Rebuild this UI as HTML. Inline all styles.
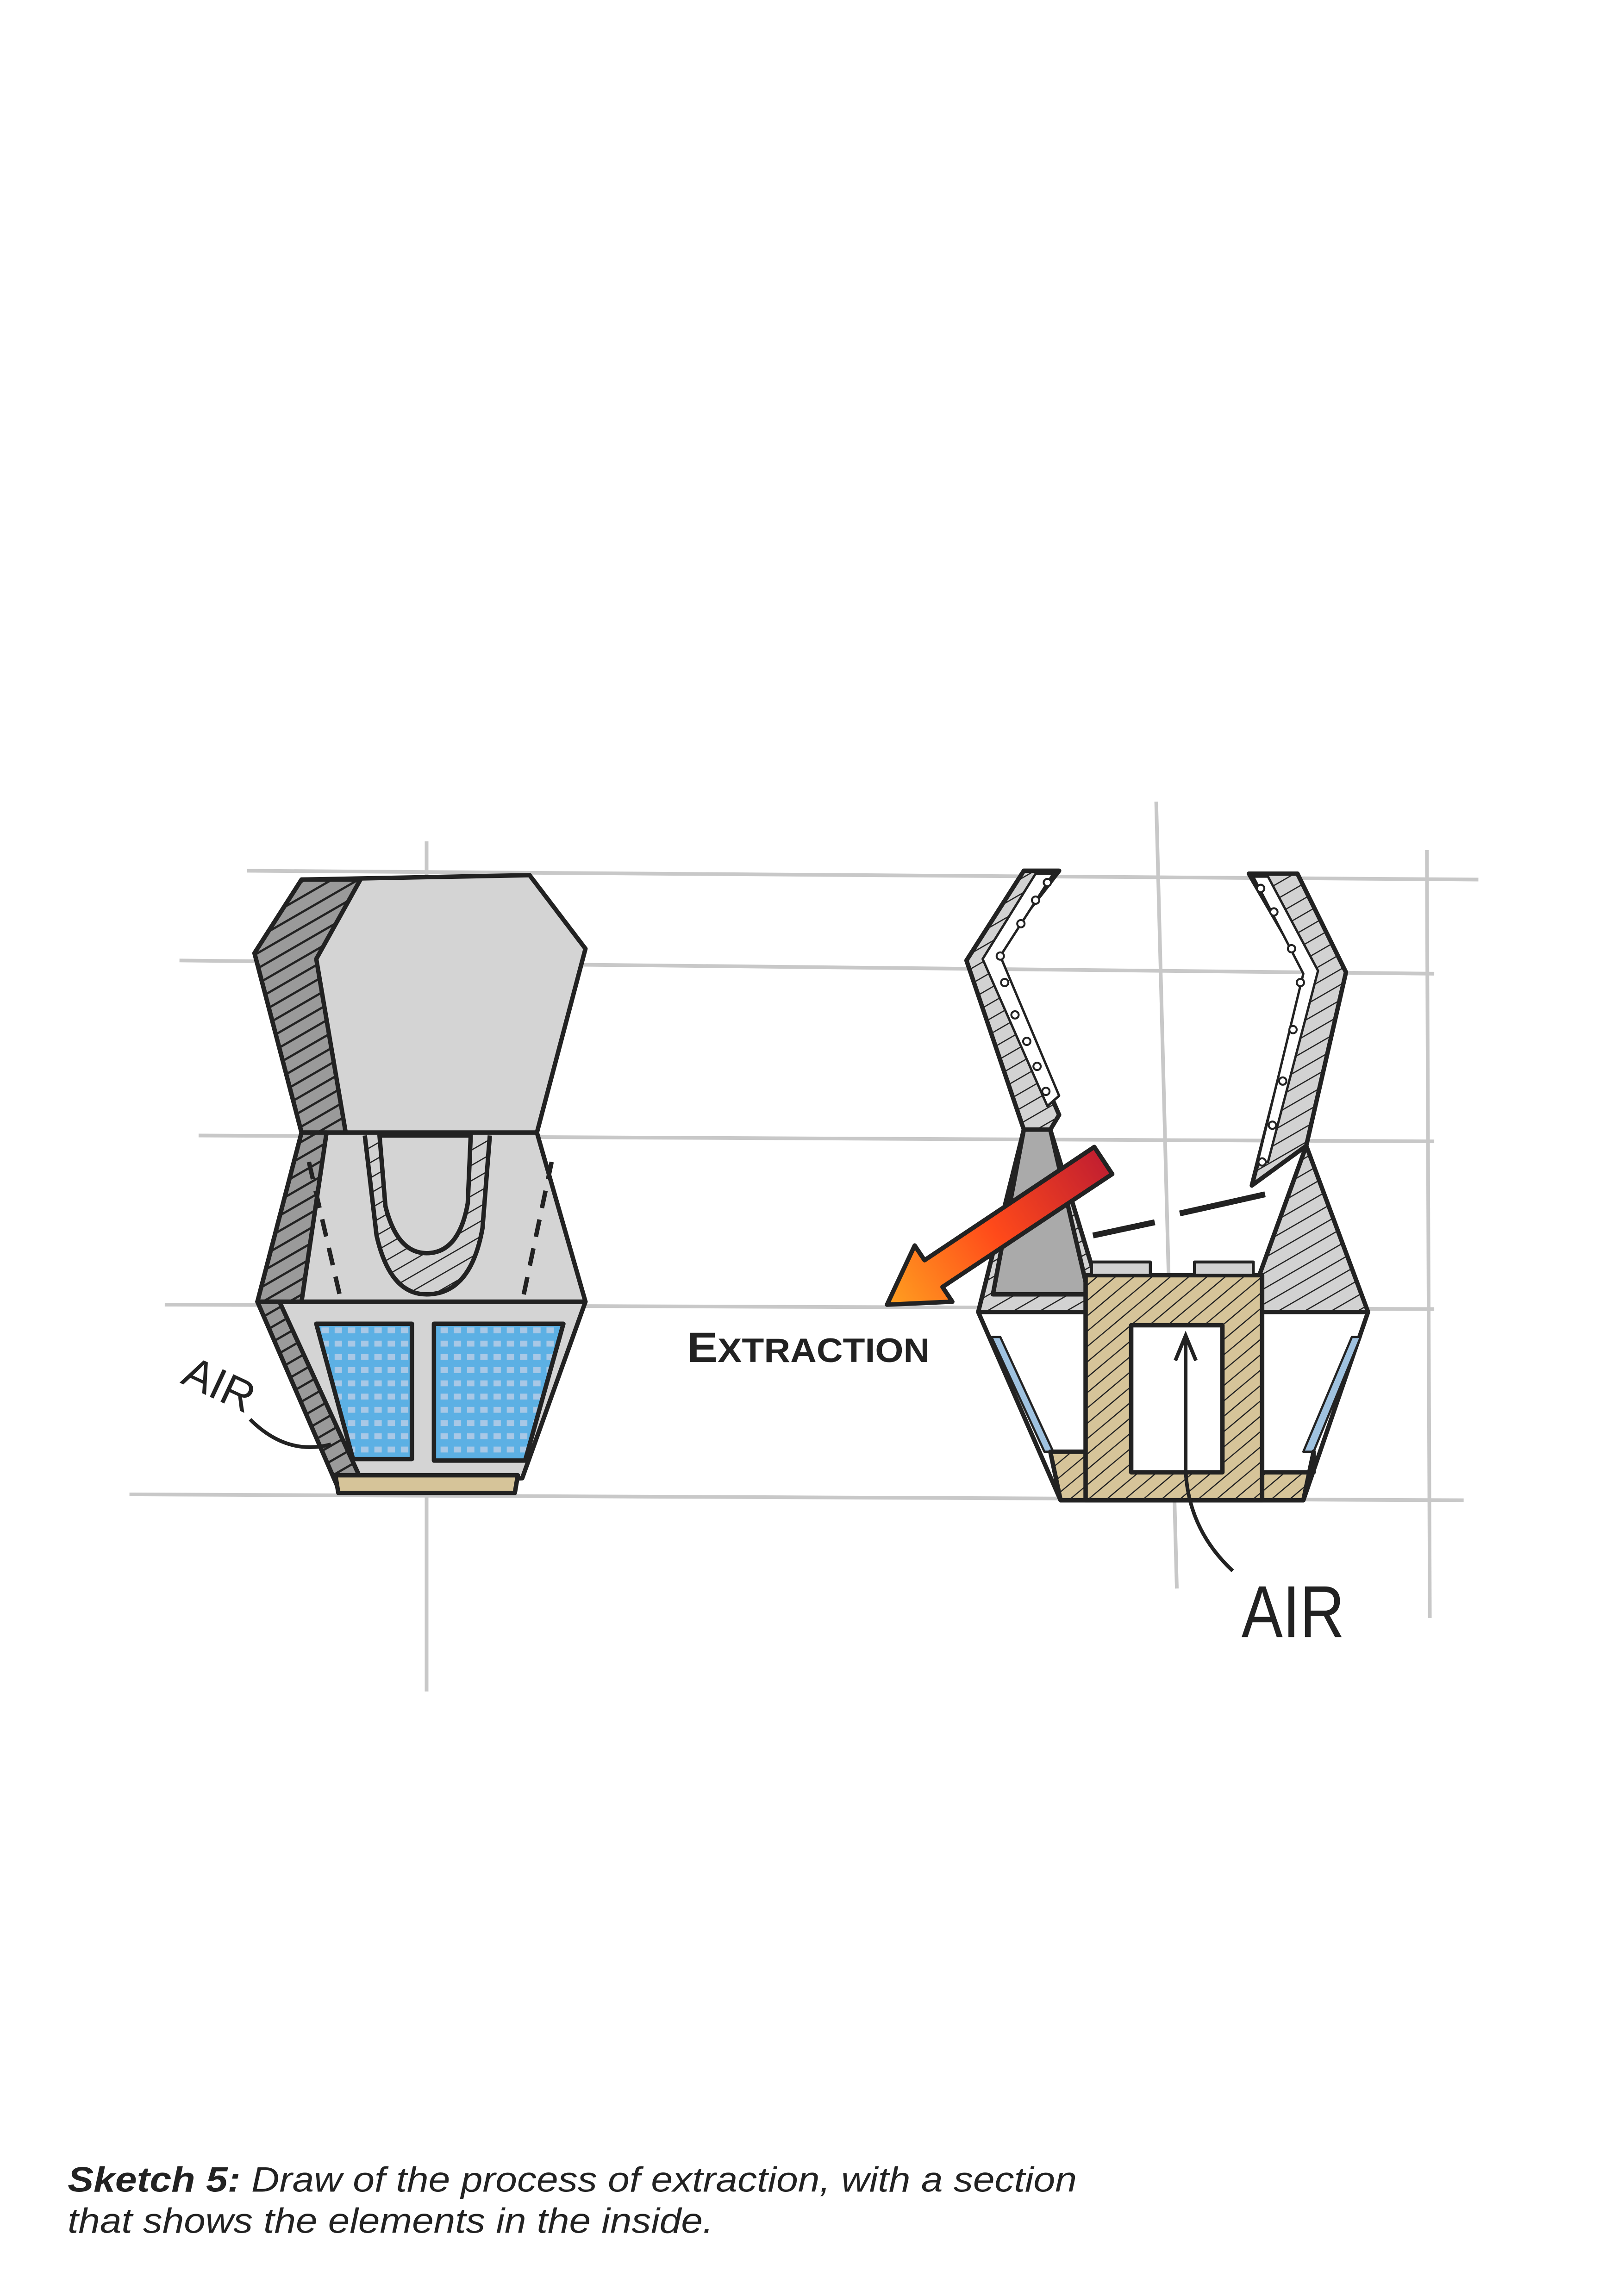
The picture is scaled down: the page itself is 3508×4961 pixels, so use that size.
<!DOCTYPE html>
<html><head><meta charset="utf-8"><style>
html,body{margin:0;padding:0;background:#fff;}
svg{display:block;}
</style></head><body>
<svg width="3508" height="4961" viewBox="0 0 1104 1561" preserveAspectRatio="none" xmlns="http://www.w3.org/2000/svg">
<defs>
<pattern id="h" width="9" height="9" patternUnits="userSpaceOnUse" patternTransform="rotate(-30)">
<rect width="9" height="9" fill="#9a9a9a"/><line x1="0" y1="0" x2="9" y2="0" stroke="#222" stroke-width="3"/></pattern>
<pattern id="hl" width="9" height="9" patternUnits="userSpaceOnUse" patternTransform="rotate(-30)">
<rect width="9" height="9" fill="#d2d2d2"/><line x1="0" y1="0" x2="9" y2="0" stroke="#222" stroke-width="1.6"/></pattern>
<pattern id="ht" width="8" height="8" patternUnits="userSpaceOnUse" patternTransform="rotate(-40)">
<rect width="8" height="8" fill="#d6c499"/><line x1="0" y1="0" x2="8" y2="0" stroke="#222" stroke-width="1.6"/></pattern>
<pattern id="bl" width="9" height="9" patternUnits="userSpaceOnUse">
<rect width="9" height="9" fill="#5cb0e4"/><rect x="2.5" y="2.5" width="5" height="4" fill="#a8c8e6"/></pattern>
<linearGradient id="ag" x1="750" y1="789" x2="603" y2="887" gradientUnits="userSpaceOnUse">
<stop offset="0" stop-color="#c21f30"/><stop offset="0.5" stop-color="#ff4a1a"/><stop offset="1" stop-color="#ffa020"/></linearGradient>
</defs>
<g stroke="#c8c8c8" stroke-width="2.5" fill="none">
<path d="M168 592 L1005 598"/><path d="M122 653 L975 662"/><path d="M135 772 L975 776"/>
<path d="M112 887 L975 890"/><path d="M88 1016 L995 1020"/>
<path d="M290 572 L290 1150"/><path d="M786 545 L800 1080"/><path d="M970 578 L972 1100"/>
</g>
<g stroke="#222" stroke-width="3" stroke-linejoin="round">
<polygon points="205,598 360,595 398,645 365,770 205,770 173,648" fill="#d4d4d4"/>
<polygon points="205,598 245,598 215,652 235,770 205,770 173,648" fill="url(#h)"/>
<polygon points="205,770 365,770 398,885 175,885" fill="#d4d4d4"/>
<polygon points="205,770 222,770 205,885 175,885" fill="url(#h)"/>
<path d="M248,772 L256,840 Q265,880 290,880 Q320,880 328,835 L333,772" fill="url(#hl)"/>
<path d="M258,772 L262,820 Q270,852 290,852 Q312,852 318,818 L320,772 Z" fill="#d4d4d4"/>
<polygon points="175,885 398,885 355,1005 230,1012" fill="#d4d4d4"/>
<polygon points="175,885 190,885 245,1005 230,1012" fill="url(#h)"/>
<polygon points="228,1003 352,1003 350,1015 230,1015" fill="#d6c499"/>
<polygon points="215,900 280,900 280,992 240,992" fill="url(#bl)"/>
<polygon points="295,900 383,900 357,993 295,993" fill="url(#bl)"/>
<path d="M210,790 L232,885 M375,790 L355,885" fill="none" stroke-dasharray="12 8"/>
</g>
<text x="0" y="0" transform="translate(122,940) rotate(25)" font-family="Liberation Sans, sans-serif" font-size="30" fill="#222">AIR</text>
<path d="M170,965 Q195,990 225,982" stroke="#222" stroke-width="2.5" fill="none"/>
<g stroke="#222" stroke-width="3" stroke-linejoin="round">
<polygon points="696,768 714,768 745,870 855,870 888,779 930,892 665,892" fill="url(#hl)"/>
<polygon points="696,768 714,768 740,880 675,880" fill="#aaa"/>
<polygon points="696,592 720,592 674,651 720,758 714,768 696,768 657,653" fill="url(#hl)"/>
<polygon points="704,594 716,594 680,650 720,745 712,752 668,652" fill="#fff" stroke-width="1.6"/>
<polygon points="849,594 882,594 915,661 888,779 851,806 888,661" fill="url(#hl)"/>
<polygon points="852,596 862,596 896,660 862,790 855,790 886,662" fill="#fff" stroke-width="1.6"/>
<polygon points="665,892 930,892 886,1020 721,1020" fill="#fff"/>
<polygon points="674,909 680,909 716,987 710,987" fill="#9fc2e0" stroke-width="1.5"/>
<polygon points="919,909 925,909 893,987 886,987" fill="#9fc2e0" stroke-width="1.5"/>
<polygon points="714,987 738,987 738,1001 893,1001 893,987 886,1020 721,1020" fill="url(#ht)"/>
<path d="M738,867 L858,867 L858,1020 L738,1020 Z M769,901 L769,1001 L831,1001 L831,901 Z" fill="url(#ht)" fill-rule="evenodd"/>
<rect x="742" y="858" width="40" height="9" fill="#d2d2d2" stroke-width="2"/>
<rect x="812" y="858" width="40" height="9" fill="#d2d2d2" stroke-width="2"/>
<path d="M743,840 L785,831 M802,825 L860,812" fill="none" stroke-width="4"/>
<polygon points="743.9,779.8 756.1,798.2 640.7,875 647.4,885 603,887 621.8,846.8 628.5,856.8" fill="url(#ag)"/>
</g>
<g fill="#fff" stroke="#222" stroke-width="1.3">
<circle cx="712" cy="600" r="2.5"/><circle cx="704" cy="612" r="2.5"/><circle cx="694" cy="628" r="2.5"/><circle cx="680" cy="650" r="2.5"/><circle cx="683" cy="668" r="2.5"/><circle cx="690" cy="690" r="2.5"/><circle cx="698" cy="708" r="2.5"/><circle cx="705" cy="725" r="2.5"/><circle cx="711" cy="742" r="2.5"/>
<circle cx="857" cy="604" r="2.5"/><circle cx="866" cy="620" r="2.5"/><circle cx="878" cy="645" r="2.5"/><circle cx="884" cy="668" r="2.5"/><circle cx="879" cy="700" r="2.5"/><circle cx="872" cy="735" r="2.5"/><circle cx="865" cy="765" r="2.5"/><circle cx="858" cy="790" r="2.5"/>
</g>
<path d="M838,1068 Q808,1040 806,1000 L806,910 M799,925 L806,908 L813,925" stroke="#222" stroke-width="2.5" fill="none"/>
<text x="467" y="926" font-family="Liberation Sans, sans-serif" font-size="29" font-weight="bold" fill="#222" textLength="165" lengthAdjust="spacingAndGlyphs">E<tspan font-size="23">XTRACTION</tspan></text>
<text x="844" y="1113" font-family="Liberation Sans, sans-serif" font-size="50" fill="#222" textLength="70" lengthAdjust="spacingAndGlyphs">AIR</text>
<text x="46" y="1490" font-family="Liberation Sans, sans-serif" font-size="24" font-style="italic" fill="#222" textLength="686" lengthAdjust="spacingAndGlyphs"><tspan font-weight="bold">Sketch 5:</tspan> Draw of the process of extraction, with a section</text>
<text x="46" y="1518" font-family="Liberation Sans, sans-serif" font-size="24" font-style="italic" fill="#222" textLength="439" lengthAdjust="spacingAndGlyphs">that shows the elements in the inside.</text>
</svg>
</body></html>
